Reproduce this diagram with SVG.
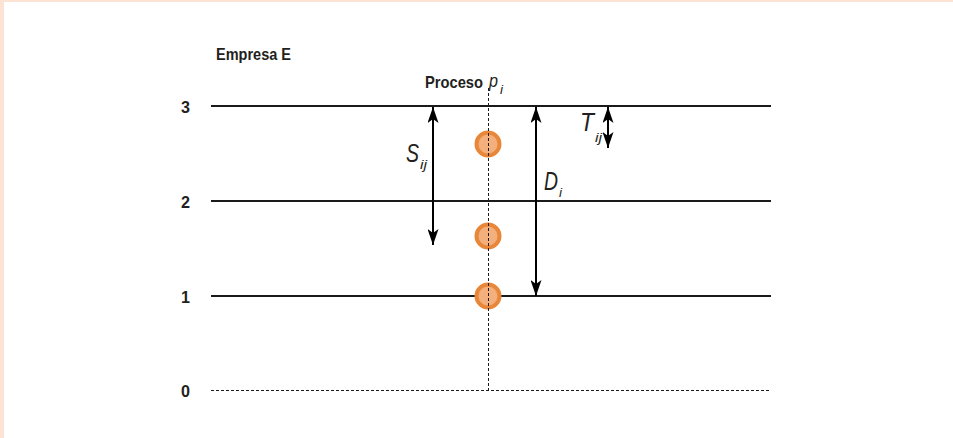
<svg xmlns="http://www.w3.org/2000/svg" width="953" height="438" viewBox="0 0 953 438">
<defs>
<style>
.lbl{font-family:"Liberation Sans",Arial,sans-serif;font-weight:bold;fill:#231f20}
.it{font-family:"Liberation Sans",Arial,sans-serif;font-style:italic;fill:#231f20}
.lvl{stroke:#1a1a1a;stroke-width:2;fill:none}
.dot{stroke:#1a1a1a;stroke-width:1;stroke-dasharray:3,2;fill:none}
.arr{stroke:#000;stroke-width:2;fill:none;marker-start:url(#ah);marker-end:url(#ah)}
.node{fill:#f3b07c;stroke:#e8873a;stroke-width:4}
</style>
<marker id="ah" viewBox="0 0 16 11" refX="16" refY="5.5" markerWidth="16" markerHeight="11" markerUnits="userSpaceOnUse" orient="auto-start-reverse">
<path d="M0,0 L16,5.5 L0,11 L4,5.5 Z" fill="#000"/>
</marker>
</defs>
<rect x="0" y="0" width="953" height="438" fill="#fde3d3"/>
<rect x="4" y="2" width="949" height="436" fill="#ffffff"/>
<g id="labels">
<text class="lbl" x="216" y="60" font-size="17" textLength="75" lengthAdjust="spacingAndGlyphs">Empresa E</text>
<text class="lbl" x="425" y="88" font-size="17"><tspan textLength="58" lengthAdjust="spacingAndGlyphs">Proceso</tspan><tspan class="it" font-weight="normal" x="489" y="87" font-size="19" textLength="9" lengthAdjust="spacingAndGlyphs">p</tspan><tspan class="it" font-weight="normal" x="500" y="94" font-size="12" textLength="3" lengthAdjust="spacingAndGlyphs">i</tspan></text>
<text class="lbl" x="181" y="113" font-size="17" textLength="9" lengthAdjust="spacingAndGlyphs">3</text>
<text class="lbl" x="181" y="208" font-size="17" textLength="9" lengthAdjust="spacingAndGlyphs">2</text>
<text class="lbl" x="181" y="303" font-size="17" textLength="9" lengthAdjust="spacingAndGlyphs">1</text>
<text class="lbl" x="181" y="397" font-size="17" textLength="9" lengthAdjust="spacingAndGlyphs">0</text>
</g>
<g id="levels">
<line class="lvl" x1="211" y1="106" x2="771" y2="106"/>
<line class="lvl" x1="211" y1="201" x2="771" y2="201"/>
<line class="lvl" x1="211" y1="296" x2="771" y2="296"/>
<line class="dot" x1="211" y1="390.5" x2="771" y2="390.5"/>
</g>
<g id="connectors">
<line class="arr" x1="433" y1="107" x2="433" y2="245"/>
<line class="arr" x1="536" y1="107" x2="536" y2="296"/>
<line class="arr" x1="608" y1="107" x2="608" y2="148"/>
</g>
<g id="S">
<text class="it" x="406" y="162" font-size="26"><tspan textLength="13" lengthAdjust="spacingAndGlyphs">S</tspan><tspan x="420" y="169" font-size="13" textLength="7" lengthAdjust="spacingAndGlyphs">ij</tspan></text>
</g>
<g id="D">
<text class="it" x="544" y="190" font-size="26"><tspan textLength="14" lengthAdjust="spacingAndGlyphs">D</tspan><tspan x="559" y="197" font-size="13" textLength="3" lengthAdjust="spacingAndGlyphs">i</tspan></text>
</g>
<g id="T">
<text class="it" x="580" y="131" font-size="26"><tspan textLength="14" lengthAdjust="spacingAndGlyphs">T</tspan><tspan x="595" y="142" font-size="13" textLength="7" lengthAdjust="spacingAndGlyphs">ij</tspan></text>
</g>
<g id="node1"><circle class="node" cx="488" cy="144" r="11.5"/></g>
<g id="node2"><circle class="node" cx="488" cy="236" r="11.5"/></g>
<g id="node3"><circle class="node" cx="488" cy="296" r="11.5"/></g>
<g id="process-line">
<line class="dot" x1="488.5" y1="88" x2="488.5" y2="390"/>
</g>
</svg>
